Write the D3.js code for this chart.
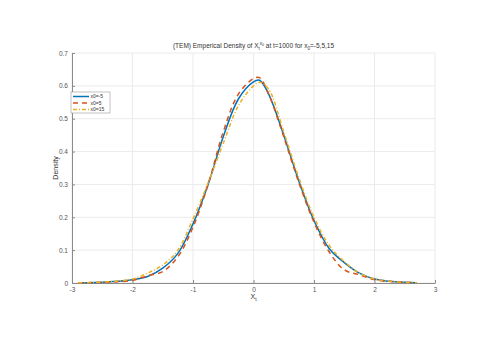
<!DOCTYPE html>
<html>
<head>
<meta charset="utf-8">
<script src="https://cdn.jsdelivr.net/npm/d3@7"></script>
<style>
  body { margin: 0; background: #fff; }
  svg { font-family: "Liberation Sans", Arial, sans-serif; }
</style>
</head>
<body>
<div id="chart"></div>
<script>
// density estimates
var xs = [-2.9, -2.75, -2.5, -2.25, -2.0, -1.75, -1.5, -1.25, -1.0, -0.75, -0.5, -0.25, 0, 0.1, 0.25, 0.5, 0.75, 1.0, 1.25, 1.5, 1.75, 2.0, 2.25, 2.5, 2.7];
var densM5 = [0.001, 0.001, 0.002, 0.005, 0.010, 0.020, 0.045, 0.090, 0.180, 0.300, 0.445, 0.560, 0.612, 0.617, 0.575, 0.450, 0.310, 0.190, 0.105, 0.062, 0.030, 0.012, 0.005, 0.002, 0.001];
var densP5 = [0.001, 0.001, 0.002, 0.004, 0.008, 0.022, 0.035, 0.080, 0.170, 0.300, 0.460, 0.575, 0.622, 0.625, 0.575, 0.445, 0.305, 0.185, 0.095, 0.040, 0.025, 0.010, 0.005, 0.002, 0.001];
var densP15 = [0.001, 0.001, 0.003, 0.006, 0.012, 0.030, 0.055, 0.100, 0.195, 0.305, 0.425, 0.540, 0.600, 0.611, 0.590, 0.460, 0.320, 0.200, 0.115, 0.065, 0.030, 0.012, 0.005, 0.002, 0.001];
var seriesNames = ["x0=-5", "x0=5", "x0=15"];
var xTicks = [-3, -2, -1, 0, 1, 2, 3];
var yTicks = [0, 0.1, 0.2, 0.3, 0.4, 0.5, 0.6, 0.7];

var svgWidth = 491, svgHeight = 347;
var margin = { top: 53, right: 56, bottom: 64, left: 72 };
var chartWidth = svgWidth - margin.left - margin.right;
var chartHeight = svgHeight - margin.top - margin.bottom;

var svg = d3.select("#chart").append("svg")
    .attr("width", svgWidth)
    .attr("height", svgHeight);

var chartGroup = svg.append("g")
    .attr("transform", `translate(${margin.left}, ${margin.top})`);

var xScale = d3.scaleLinear().domain([-3, 3]).range([0, chartWidth]);
var yScale = d3.scaleLinear().domain([0, 0.7]).range([chartHeight, 0]);

// grid
chartGroup.append("g").selectAll("line")
    .data(xTicks)
    .enter().append("line")
    .attr("x1", d => xScale(d)).attr("x2", d => xScale(d))
    .attr("y1", 0).attr("y2", chartHeight)
    .attr("stroke", "#ebebeb").attr("stroke-width", 1);
chartGroup.append("g").selectAll("line")
    .data(yTicks)
    .enter().append("line")
    .attr("x1", 0).attr("x2", chartWidth)
    .attr("y1", d => yScale(d)).attr("y2", d => yScale(d))
    .attr("stroke", "#ebebeb").attr("stroke-width", 1);

// axes (plain hyphen minus like the original)
var xAxis = d3.axisBottom(xScale).tickValues(xTicks).tickSizeInner(-3).tickSizeOuter(0).tickPadding(4)
    .tickFormat(d => String(d));
var yAxis = d3.axisLeft(yScale).tickValues(yTicks).tickSizeInner(-3).tickSizeOuter(0).tickPadding(4)
    .tickFormat(d => d === 0 ? "0" : d3.format(".1f")(d));

var gx = chartGroup.append("g")
    .attr("transform", `translate(0, ${chartHeight})`)
    .call(xAxis);
var gy = chartGroup.append("g").call(yAxis);
[gx, gy].forEach(function(g) {
    g.select(".domain").attr("stroke", "#8a8a8a");
    g.selectAll(".tick line").attr("stroke", "#8a8a8a");
    g.selectAll(".tick text").attr("fill", "#555").style("font-size", "6.5px")
        .style("font-family", "Liberation Sans, Arial, sans-serif");
});

// lines
var seriesData = [densM5, densP5, densP15];
var colors = ["#0072BD", "#D95319", "#EDB120"];
var dashes = [null, "5,4", "4,2,1,2"];
var line = d3.line()
    .x(d => xScale(d[0]))
    .y(d => yScale(d[1]))
    .curve(d3.curveCatmullRom);

seriesData.forEach(function(vals, i) {
    chartGroup.append("path")
        .datum(xs.map((x, j) => [x, vals[j]]))
        .attr("fill", "none")
        .attr("stroke", colors[i])
        .attr("stroke-width", 1.5)
        .attr("stroke-dasharray", dashes[i])
        .attr("d", line);
});

// title
var title = svg.append("text")
    .attr("x", margin.left + chartWidth / 2)
    .attr("y", 48)
    .attr("text-anchor", "middle")
    .attr("fill", "#333")
    .style("font-size", "6.5px");
title.append("tspan").text("(TEM) Emperical Density of X");
title.append("tspan").attr("dy", "1.5").style("font-size", "4.5px").text("t");
title.append("tspan").attr("dy", "-4.5").style("font-size", "4.5px").text("x");
title.append("tspan").attr("dy", "1").style("font-size", "3.5px").text("0");
title.append("tspan").attr("dy", "2").text(" at t=1000 for x");
title.append("tspan").attr("dy", "2").style("font-size", "4.5px").text("0");
title.append("tspan").attr("dy", "-2").text("=-5,5,15");

// axis labels
var xLabel = svg.append("text")
    .attr("x", margin.left + chartWidth / 2)
    .attr("y", 299)
    .attr("text-anchor", "middle")
    .attr("fill", "#333")
    .style("font-size", "7px");
xLabel.append("tspan").text("X");
xLabel.append("tspan").attr("dy", "2").style("font-size", "5px").text("t");

svg.append("text")
    .attr("transform", `translate(58, ${margin.top + chartHeight / 2}) rotate(-90)`)
    .attr("text-anchor", "middle")
    .attr("fill", "#333")
    .style("font-size", "7px")
    .text("Density");

// legend
var legend = svg.append("g").attr("transform", "translate(71, 92)");
legend.append("rect")
    .attr("width", 39).attr("height", 21)
    .attr("fill", "#fff").attr("stroke", "#999").attr("stroke-width", 0.6);
seriesNames.forEach(function(name, i) {
    var yy = 4.5 + i * 6.5;
    legend.append("line")
        .attr("x1", 2).attr("x2", 18).attr("y1", yy).attr("y2", yy)
        .attr("stroke", colors[i]).attr("stroke-width", 1.5)
        .attr("stroke-dasharray", dashes[i]);
    legend.append("text")
        .attr("x", 19.5).attr("y", yy + 1.7)
        .attr("fill", "#333")
        .style("font-size", "5px")
        .text(name);
});
</script>
</body>
</html>
